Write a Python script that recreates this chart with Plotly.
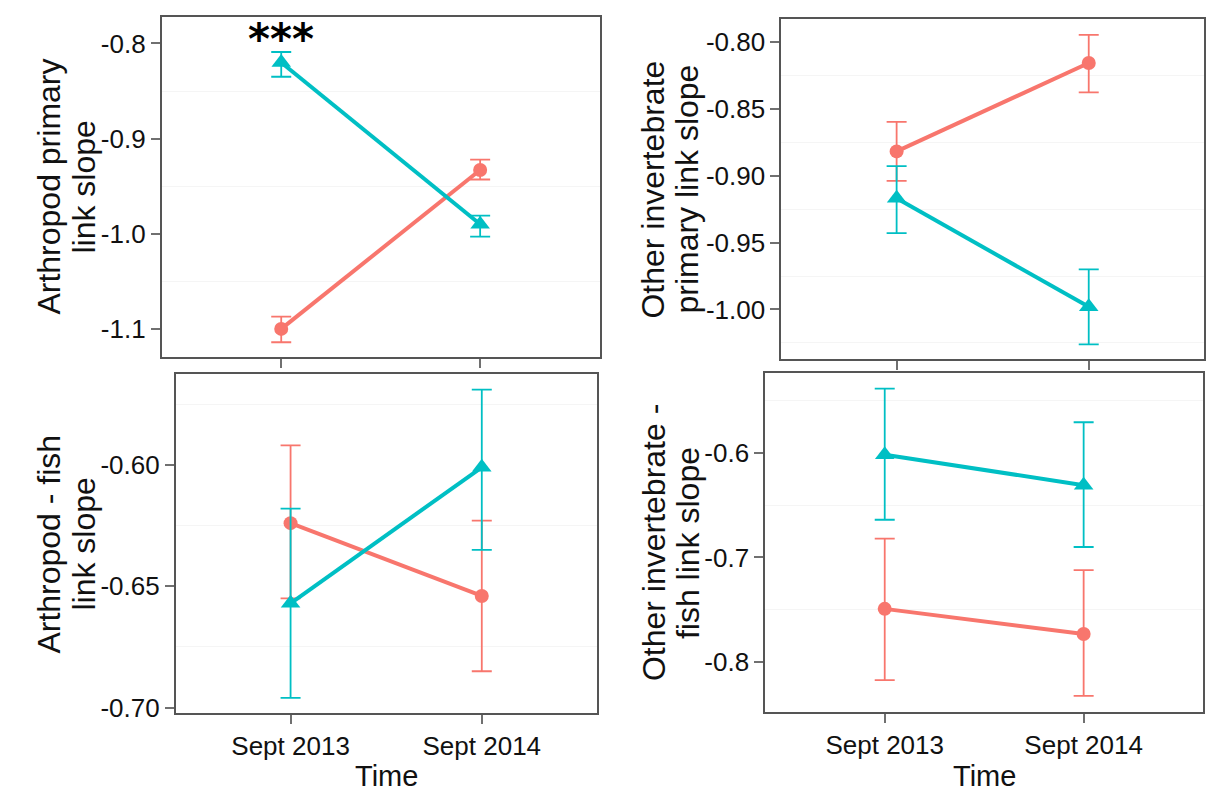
import plotly.graph_objects as go

W, H = 1206, 804

TIMES = ["Sept 2013", "Sept 2014"]
GROUP_NAMES = ["Group 1", "Group 2"]
GROUP_COLORS = ["#F8766D", "#00BFC4"]
GROUP_SYMBOLS = ["circle", "triangle-up"]
GROUP_SIZES = [14, 17]

# Arthropod primary link slope: mean and interval bounds per time point
arth_prim_g1_mean = [-1.100, -0.933]
arth_prim_g1_lower = [-1.114, -0.943]
arth_prim_g1_upper = [-1.087, -0.922]
arth_prim_g2_mean = [-0.820, -0.990]
arth_prim_g2_lower = [-0.835, -1.003]
arth_prim_g2_upper = [-0.809, -0.981]

# Other invertebrate primary link slope
oth_prim_g1_mean = [-0.882, -0.816]
oth_prim_g1_lower = [-0.904, -0.838]
oth_prim_g1_upper = [-0.860, -0.795]
oth_prim_g2_mean = [-0.917, -0.998]
oth_prim_g2_lower = [-0.943, -1.026]
oth_prim_g2_upper = [-0.893, -0.970]

# Arthropod - fish link slope
arth_fish_g1_mean = [-0.624, -0.654]
arth_fish_g1_lower = [-0.655, -0.685]
arth_fish_g1_upper = [-0.592, -0.623]
arth_fish_g2_mean = [-0.657, -0.601]
arth_fish_g2_lower = [-0.696, -0.635]
arth_fish_g2_upper = [-0.618, -0.569]

# Other invertebrate - fish link slope
oth_fish_g1_mean = [-0.749, -0.773]
oth_fish_g1_lower = [-0.817, -0.832]
oth_fish_g1_upper = [-0.682, -0.712]
oth_fish_g2_mean = [-0.602, -0.631]
oth_fish_g2_lower = [-0.664, -0.690]
oth_fish_g2_upper = [-0.539, -0.571]

# Y tick values and labels per panel
arth_prim_ticks = [-1.1, -1.0, -0.9, -0.8]
arth_prim_ticktext = ["-1.1", "-1.0", "-0.9", "-0.8"]
oth_prim_ticks = [-1.00, -0.95, -0.90, -0.85, -0.80]
oth_prim_ticktext = ["-1.00", "-0.95", "-0.90", "-0.85", "-0.80"]
arth_fish_ticks = [-0.70, -0.65, -0.60]
arth_fish_ticktext = ["-0.70", "-0.65", "-0.60"]
oth_fish_ticks = [-0.8, -0.7, -0.6]
oth_fish_ticktext = ["-0.8", "-0.7", "-0.6"]

# Faint minor grid lines between the labelled ticks
arth_prim_grid = [-1.05, -0.95, -0.85]
oth_prim_grid = [-1.025, -0.975, -0.925, -0.875, -0.825]
arth_fish_grid = [-0.675, -0.625, -0.575]
oth_fish_grid = [-0.75, -0.65, -0.55]

SIG_LABEL = "***"
X_TITLE = "Time"

FONT = "Liberation Sans, Arial, sans-serif"
BORDER = "#555555"
TICK_COLOR = "#707070"
GRID_COLOR = "#f5f5f5"
TEXT_COLOR = "#111111"

panels = [
    dict(series=[(arth_prim_g1_mean, arth_prim_g1_lower, arth_prim_g1_upper),
                 (arth_prim_g2_mean, arth_prim_g2_lower, arth_prim_g2_upper)],
         ticks=arth_prim_ticks, ticktext=arth_prim_ticktext, grid=arth_prim_grid,
         yrange=[-1.129, -0.772], box=(162, 17, 600, 361),
         title=["Arthropod primary", "link slope"], title_x=(49, 84), xlabels=False),
    dict(series=[(oth_prim_g1_mean, oth_prim_g1_lower, oth_prim_g1_upper),
                 (oth_prim_g2_mean, oth_prim_g2_lower, oth_prim_g2_upper)],
         ticks=oth_prim_ticks, ticktext=oth_prim_ticktext, grid=oth_prim_grid,
         yrange=[-1.0373, -0.783], box=(782, 19, 1205, 364),
         title=["Other invertebrate", "primary link slope"], title_x=(654, 688), xlabels=False),
    dict(series=[(arth_fish_g1_mean, arth_fish_g1_lower, arth_fish_g1_upper),
                 (arth_fish_g2_mean, arth_fish_g2_lower, arth_fish_g2_upper)],
         ticks=arth_fish_ticks, ticktext=arth_fish_ticktext, grid=arth_fish_grid,
         yrange=[-0.7022, -0.5627], box=(176, 379, 597, 722),
         title=["Arthropod - fish", "link slope"], title_x=(49, 84), xlabels=True),
    dict(series=[(oth_fish_g1_mean, oth_fish_g1_lower, oth_fish_g1_upper),
                 (oth_fish_g2_mean, oth_fish_g2_lower, oth_fish_g2_upper)],
         ticks=oth_fish_ticks, ticktext=oth_fish_ticktext, grid=oth_fish_grid,
         yrange=[-0.8474, -0.5243], box=(766, 378, 1204, 721),
         title=["Other invertebrate -", "fish link slope"], title_x=(654, 688), xlabels=True),
]

fig = go.Figure()
layout = dict(
    width=W, height=H, autosize=False,
    margin=dict(l=0, r=0, t=0, b=0),
    paper_bgcolor="white", plot_bgcolor="white",
    showlegend=False,
    font=dict(family=FONT, color=TEXT_COLOR),
)
annotations = []

for i, p in enumerate(panels):
    sfx = "" if i == 0 else str(i + 1)
    xa, ya = "x" + sfx, "y" + sfx
    x0, y0, x1, y1 = p["box"]

    for g, (mean, lower, upper) in enumerate(p["series"]):
        fig.add_trace(go.Scatter(
            x=TIMES, y=mean, xaxis=xa, yaxis=ya,
            mode="lines+markers", name=GROUP_NAMES[g],
            line=dict(color=GROUP_COLORS[g], width=4),
            marker=dict(symbol=GROUP_SYMBOLS[g], size=GROUP_SIZES[g],
                        color=GROUP_COLORS[g]),
            error_y=dict(type="data", symmetric=False,
                         array=[u - m for u, m in zip(upper, mean)],
                         arrayminus=[m - l for m, l in zip(mean, lower)],
                         color=GROUP_COLORS[g], thickness=1.8, width=10),
            cliponaxis=False,
        ))

    layout["xaxis" + sfx] = dict(
        domain=[x0 / W, x1 / W], anchor=ya,
        type="category", categoryorder="array", categoryarray=TIMES,
        range=[-0.6, 1.6],
        showline=True, mirror=True, linecolor=BORDER, linewidth=2,
        ticks="outside", ticklen=9, tickwidth=1.5, tickcolor=TICK_COLOR,
        showgrid=False, zeroline=False,
        showticklabels=p["xlabels"],
        tickfont=dict(family=FONT, size=26, color=TEXT_COLOR),
    )
    layout["yaxis" + sfx] = dict(
        domain=[1 - y1 / H, 1 - y0 / H], anchor=xa,
        range=p["yrange"],
        tickmode="array", tickvals=p["ticks"], ticktext=p["ticktext"],
        showline=True, mirror=True, linecolor=BORDER, linewidth=2,
        ticks="outside", ticklen=9, tickwidth=1.5, tickcolor=TICK_COLOR,
        showgrid=False, zeroline=False,
        minor=dict(tickvals=p["grid"], showgrid=True, gridcolor=GRID_COLOR,
                   gridwidth=1, ticks=""),
        tickfont=dict(family=FONT, size=26, color=TEXT_COLOR),
    )

    # two-line rotated y-axis title
    yc = 1 - ((y0 + y1) / 2) / H
    for line, lx in zip(p["title"], p["title_x"]):
        annotations.append(dict(
            text=line, xref="paper", yref="paper", x=lx / W, y=yc,
            xanchor="center", yanchor="middle", textangle=-90, showarrow=False,
            font=dict(family=FONT, size=32, color=TEXT_COLOR),
        ))

    if p["xlabels"]:
        annotations.append(dict(
            text=X_TITLE, xref="paper", yref="paper",
            x=((x0 + x1) / 2) / W, y=1 - 786 / H,
            xanchor="center", yanchor="middle", showarrow=False,
            font=dict(family=FONT, size=29, color=TEXT_COLOR),
        ))

# significance marker above the first time point of the first panel
annotations.append(dict(
    text=SIG_LABEL, xref="x", yref="y", x=TIMES[0], y=-0.796,
    xanchor="center", yanchor="middle", showarrow=False,
    font=dict(family="DejaVu Sans", size=42, color="black", weight="bold"),
))

layout["annotations"] = annotations
fig.update_layout(**layout)
fig.write_html("out.html")
